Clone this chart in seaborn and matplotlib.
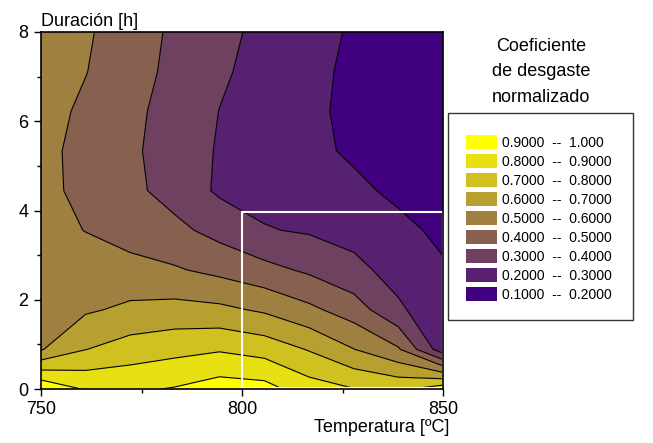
import numpy as np
import matplotlib
matplotlib.use("Agg")
import matplotlib.pyplot as plt
from matplotlib.patches import Patch, Rectangle
from matplotlib.ticker import MultipleLocator
import seaborn as sns

# Measurement grid: temperature (ºC) along x, duration (h) along y
temperature = [750.0, 761.1, 772.2, 783.3, 794.4, 805.6, 816.7, 827.8, 838.9, 850.0]
duration = [0.0, 0.889, 1.778, 2.667, 3.556, 4.444, 5.333, 6.222, 7.111, 8.0]

# Normalised wear coefficient, one row per duration
wear_0h0 = [0.990, 0.890, 0.883, 0.907, 0.949, 0.937, 0.846, 0.803, 0.780, 0.860]
wear_0h9 = [0.593, 0.698, 0.746, 0.770, 0.790, 0.760, 0.693, 0.602, 0.511, 0.240]
wear_1h8 = [0.570, 0.587, 0.619, 0.633, 0.622, 0.585, 0.522, 0.450, 0.315, 0.235]
wear_2h7 = [0.550, 0.543, 0.536, 0.510, 0.474, 0.430, 0.384, 0.325, 0.266, 0.211]
wear_3h6 = [0.530, 0.498, 0.454, 0.425, 0.367, 0.306, 0.290, 0.269, 0.224, 0.180]
wear_4h4 = [0.526, 0.475, 0.424, 0.362, 0.285, 0.269, 0.241, 0.220, 0.181, 0.160]
wear_5h3 = [0.526, 0.471, 0.417, 0.355, 0.291, 0.258, 0.222, 0.186, 0.160, 0.140]
wear_6h2 = [0.539, 0.481, 0.423, 0.363, 0.2985, 0.259, 0.219, 0.178, 0.155, 0.135]
wear_7h1 = [0.560, 0.503, 0.439, 0.375, 0.314, 0.267, 0.225, 0.180, 0.155, 0.135]
wear_8h0 = [0.580, 0.513, 0.447, 0.383, 0.326, 0.276, 0.233, 0.189, 0.160, 0.140]

levels = [0.1, 0.2, 0.3, 0.4, 0.5, 0.6, 0.7, 0.8, 0.9, 1.0]
band_labels = [
    "0.1000  --  0.2000", "0.2000  --  0.3000", "0.3000  --  0.4000",
    "0.4000  --  0.5000", "0.5000  --  0.6000", "0.6000  --  0.7000",
    "0.7000  --  0.8000", "0.8000  --  0.9000", "0.9000  --  1.000",
]

sns.set_theme(style="ticks")
plt.rcParams["font.family"] = ["Liberation Sans", "DejaVu Sans"]

band_colors = sns.blend_palette(["#400080", "#ffff00"], n_colors=9)

W, H = 653, 443
fig = plt.figure(figsize=(W / 100, H / 100), dpi=100)
ax = fig.add_axes([41 / W, 1 - 389 / H, 402 / W, 357 / H])

X, Y = np.meshgrid(temperature, duration)
Z = np.array([wear_0h0, wear_0h9, wear_1h8, wear_2h7, wear_3h6,
              wear_4h4, wear_5h3, wear_6h2, wear_7h1, wear_8h0])

ax.contourf(X, Y, Z, levels=levels, colors=band_colors, antialiased=True)
ax.contour(X, Y, Z, levels=levels[1:-1], colors="black", linewidths=0.8)

# highlighted region
ax.add_patch(Rectangle((800, 0.03), 49.9, 3.94, fill=False,
                       edgecolor="white", linewidth=1.5, zorder=5))

ax.set_xlim(750, 850)
ax.set_ylim(0, 8)
ax.xaxis.set_major_locator(MultipleLocator(50))
ax.xaxis.set_minor_locator(MultipleLocator(25))
ax.yaxis.set_major_locator(MultipleLocator(2))
ax.yaxis.set_minor_locator(MultipleLocator(1))
ax.tick_params(which="major", length=5, width=1, color="black",
               labelsize=13, labelcolor="black")
ax.tick_params(axis="y", which="major", pad=4)
ax.tick_params(axis="x", which="major", pad=3.5)
ax.tick_params(which="minor", length=3, width=1, color="black")
for s in ax.spines.values():
    s.set_visible(True)
    s.set_color("black")
    s.set_linewidth(1.2)
    s.set_zorder(6)

fig.text(41 / W, 1 - 26 / H, "Duración [h]", ha="left", va="baseline",
         fontsize=13, color="black")
fig.text(449 / W, 1 - 432 / H, "Temperatura [ºC]", ha="right", va="baseline",
         fontsize=13, color="black")

# legend heading
for txt, yb in [("Coeficiente", 51), ("de desgaste", 76), ("normalizado", 101.5)]:
    fig.text(541 / W, 1 - yb / H, txt, ha="center", va="baseline",
             fontsize=13, color="black")

# legend frame and entries
fig.add_artist(Rectangle((448 / W, 1 - 320 / H), 185 / W, 207 / H,
                         transform=fig.transFigure, fill=False,
                         edgecolor="#333333", linewidth=1))
handles = [Patch(facecolor=c, edgecolor="none") for c in band_colors[::-1]]
fig.legend(handles, band_labels[::-1], loc="upper left",
           bbox_to_anchor=(466 / W, 1 - 135 / H), frameon=False,
           fontsize=10, handlelength=2.25, handleheight=1.2,
           labelspacing=0.3, handletextpad=0.35, borderpad=0,
           borderaxespad=0, labelcolor="black")

fig.savefig("out.png", dpi=100)
